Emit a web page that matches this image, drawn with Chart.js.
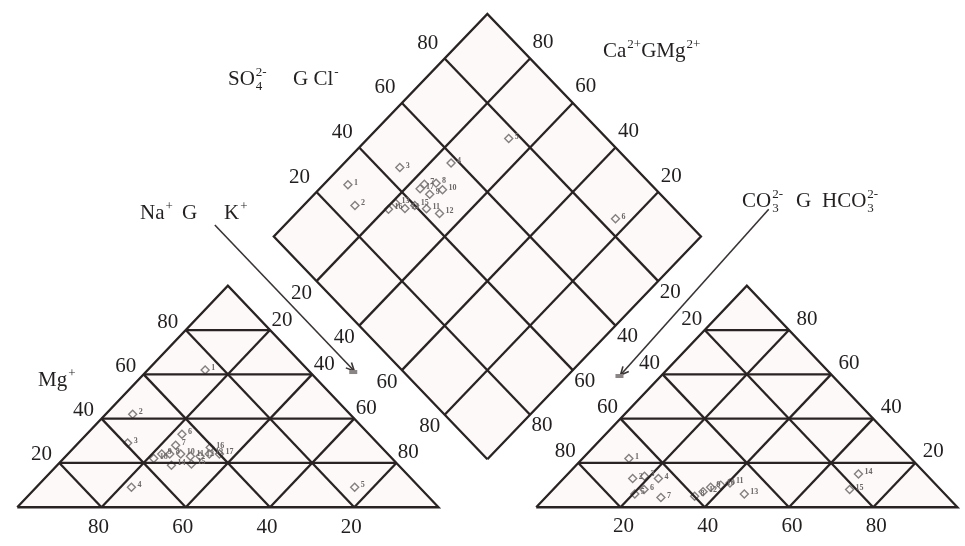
<!DOCTYPE html>
<html>
<head>
<meta charset="utf-8">
<script src="https://cdn.jsdelivr.net/npm/chart.js@4.4.1/dist/chart.umd.min.js"></script>
<style>
  html, body { margin: 0; padding: 0; background: #fff; overflow: hidden; }
  #wrap { width: 965px; height: 546px; position: relative; }
  canvas { filter: blur(0.35px); }
</style>
</head>
<body>
<div id="wrap"><canvas id="piper"></canvas></div>
<script>
// values on every axis of the three panels
const ticks = [20, 40, 60, 80];

// cation triangle: Mg % and Na+K % (Ca is the rest)
const catMg  = [62, 42, 29, 9, 9, 33, 28, 24, 24, 24, 23, 23, 24, 19, 19.5, 27, 24, 22];
const catNaK = [13.6, 6.4, 11.7, 22.6, 75.6, 22.6, 23.6, 24.2, 22.3, 26.8, 29.6, 31.9, 33.6, 27.1, 31.6, 32.3, 36, 21.4];

// anion triangle: SO4 % and Cl % (CO3+HCO3 is the rest)
const anSO4 = [22, 13, 14, 13, 6, 8, 4.4, 5, 9, 10, 11, 7, 6, 15, 8];
const anCl  = [11, 16.4, 18.7, 22.5, 20.4, 21.6, 27.4, 35.1, 36.9, 38.8, 40.5, 36.1, 46.4, 69, 70.4];

// diamond: Na+K % and SO4+Cl %
const diaNaK   = [5.7, 12, 14, 25, 33, 76, 23.5, 26, 27, 29, 29.5, 33.6, 21, 24.4, 26, 20.7, 23.5];
const diaSO4Cl = [29, 26, 45, 58, 77, 84, 47, 50, 46, 50, 42, 44, 36, 37, 40, 33, 45];

// layout of the plot in scale units (triangle base = 100, triangle height = 100)
const X0R = 123.2;               // left corner of the anion triangle
const B = { x: 111.6, y: 21.7 }; // bottom corner of the diamond
const DW = 50.7, DH = 100.5;

const catPos = (mg, nak) => ({ x: nak + mg / 2, y: mg });
const anPos = (so4, cl) => ({ x: X0R + cl + so4 / 2, y: so4 });
const diaPos = (nak, s) => ({
  x: B.x - (1 - nak / 100) * DW + (s / 100) * DW,
  y: B.y + (1 - nak / 100) * DH + (s / 100) * DH
});

const LINE = '#2a2323';
const outlines = [
  [catPos(0, 0), catPos(100, 0), catPos(0, 100)],
  [anPos(0, 0), anPos(100, 0), anPos(0, 100)],
  [diaPos(100, 0), diaPos(0, 0), diaPos(0, 100), diaPos(100, 100)]
];

const segments = [];
for (const t of ticks) {
  segments.push([catPos(t, 0), catPos(t, 100 - t)]);
  segments.push([catPos(0, t), catPos(100 - t, t)]);
  segments.push([catPos(0, 100 - t), catPos(100 - t, 0)]);
  segments.push([anPos(t, 0), anPos(t, 100 - t)]);
  segments.push([anPos(0, t), anPos(100 - t, t)]);
  segments.push([anPos(0, 100 - t), anPos(100 - t, 0)]);
  segments.push([diaPos(t, 0), diaPos(t, 100)]);
  segments.push([diaPos(0, t), diaPos(100, t)]);
}

const lineSet = pts => ({
  data: pts, showLine: true, borderColor: LINE, borderWidth: 2.3,
  pointRadius: 0, fill: false, clip: false, borderJoinStyle: 'miter'
});

const markerSet = pts => ({
  data: pts, pointStyle: 'rectRot', pointRadius: 4, borderWidth: 1.4,
  borderColor: '#858080', backgroundColor: 'rgba(0,0,0,0)', clip: false
});

const catPts = catMg.map((m, i) => catPos(m, catNaK[i]));
const anPts = anSO4.map((s, i) => anPos(s, anCl[i]));
const diaPts = diaNaK.map((n, i) => diaPos(n, diaSO4Cl[i]));

const datasets = [
  ...outlines.map(o => lineSet([...o, o[0]])),
  ...segments.map(lineSet),
  markerSet(catPts), markerSet(anPts), markerSet(diaPts)
];

// tick label groups: edge position of a tick value and label offset in px
const tickGroups = [
  { at: t => catPos(t, 0), dx: -18, dy: -8 },
  { at: t => catPos(100 - t, t), dx: 12, dy: -10 },
  { at: t => catPos(0, 100 - t), dx: -3, dy: 20 },
  { at: t => anPos(100 - t, 0), dx: -13, dy: -11 },
  { at: t => anPos(t, 100 - t), dx: 18, dy: -11 },
  { at: t => anPos(0, t), dx: 3, dy: 19 },
  { at: t => diaPos(0, t), dx: -17, dy: -15 },
  { at: t => diaPos(100 - t, 100), dx: 13, dy: -16 },
  { at: t => diaPos(t, 0), dx: -15, dy: 12 },
  { at: t => diaPos(100, 100 - t), dx: 12, dy: 11 }
];

const SERIF = '"Liberation Serif", "DejaVu Serif", serif';

function richText(ctx, x, y, parts, size) {
  let cx = x;
  for (const p of parts) {
    if (p.at !== undefined) cx = p.at;
    ctx.font = size + 'px ' + SERIF;
    if (p.t) { ctx.fillText(p.t, cx, y); cx += ctx.measureText(p.t).width; }
    ctx.font = Math.round(size * 0.6) + 'px ' + SERIF;
    let w = 0;
    if (p.sub) { ctx.fillText(p.sub, cx + 1, y + size * 0.22); w = Math.max(w, ctx.measureText(p.sub).width); }
    if (p.sup) { ctx.fillText(p.sup, cx + 1, y - size * 0.42); w = Math.max(w, ctx.measureText(p.sup).width); }
    cx += w + (w ? 1 : 0);
  }
}

const titles = [
  { x: 228, y: 85, parts: [{ t: 'SO', sub: '4', sup: '2-' }, { at: 293, t: 'G Cl', sup: '-' }] },
  { x: 603, y: 57, parts: [{ t: 'Ca', sup: '2+' }, { t: 'GMg', sup: '2+' }] },
  { x: 140, y: 219, parts: [{ t: 'Na', sup: '+' }, { at: 182, t: 'G' }, { at: 224, t: 'K', sup: '+' }] },
  { x: 742, y: 207, parts: [{ t: 'CO', sub: '3', sup: '2-' }, { at: 796, t: 'G' }, { at: 822, t: 'HCO', sub: '3', sup: '2-' }] },
  { x: 38, y: 386, parts: [{ t: 'Mg', sup: '+' }] }
];

const arrows = [
  { from: { x: 46.9, y: 127.4 }, to: { x: 80.0, y: 61.5 } },
  { from: { x: 178.4, y: 134.5 }, to: { x: 143.2, y: 59.7 } }
];

const piperDecor = {
  id: 'piperDecor',
  beforeDatasetsDraw(chart) {
    const { ctx, scales: { x, y } } = chart;
    ctx.save();
    ctx.fillStyle = '#fcf9f8';
    for (const poly of outlines) {
      ctx.beginPath();
      poly.forEach((p, i) => {
        const px = x.getPixelForValue(p.x), py = y.getPixelForValue(p.y);
        i ? ctx.lineTo(px, py) : ctx.moveTo(px, py);
      });
      ctx.closePath();
      ctx.fill();
    }
    ctx.restore();
  },
  afterDatasetsDraw(chart) {
    const { ctx, scales: { x, y } } = chart;
    ctx.save();
    ctx.fillStyle = '#231f1f';
    ctx.textAlign = 'center';
    ctx.textBaseline = 'middle';
    ctx.font = '21px ' + SERIF;
    for (const g of tickGroups) {
      for (const t of ticks) {
        const p = g.at(t);
        ctx.fillText(String(t), x.getPixelForValue(p.x) + g.dx, y.getPixelForValue(p.y) + g.dy);
      }
    }
    // sample numbers next to the markers
    ctx.font = 'bold 8px ' + SERIF;
    ctx.fillStyle = '#6c6666';
    ctx.textAlign = 'left';
    for (const set of [catPts, anPts, diaPts]) {
      set.forEach((p, i) => {
        ctx.fillText(String(i + 1), x.getPixelForValue(p.x) + 6, y.getPixelForValue(p.y) - 2);
      });
    }
    // titles
    ctx.fillStyle = '#231f1f';
    ctx.textBaseline = 'alphabetic';
    for (const tl of titles) richText(ctx, tl.x, tl.y, tl.parts, 21);
    // arrows
    ctx.strokeStyle = '#3a3434';
    ctx.lineWidth = 1.6;
    for (const a of arrows) {
      const x1 = x.getPixelForValue(a.from.x), y1 = y.getPixelForValue(a.from.y);
      const x2 = x.getPixelForValue(a.to.x), y2 = y.getPixelForValue(a.to.y);
      ctx.beginPath(); ctx.moveTo(x1, y1); ctx.lineTo(x2, y2); ctx.stroke();
      const ang = Math.atan2(y2 - y1, x2 - x1);
      ctx.beginPath();
      ctx.moveTo(x2 - 9 * Math.cos(ang - 0.45), y2 - 9 * Math.sin(ang - 0.45));
      ctx.lineTo(x2, y2);
      ctx.lineTo(x2 - 9 * Math.cos(ang + 0.45), y2 - 9 * Math.sin(ang + 0.45));
      ctx.stroke();
      ctx.fillStyle = '#8a8484';
      ctx.fillRect(x2 - 5, y2 - 1, 8, 4);
    }
    ctx.restore();
  }
};

new Chart(document.getElementById('piper'), {
  type: 'scatter',
  data: { datasets },
  options: {
    responsive: true,
    maintainAspectRatio: false,
    animation: false,
    layout: { padding: 0 },
    plugins: { legend: { display: false }, tooltip: { enabled: false } },
    scales: {
      x: { type: 'linear', display: false, min: -2.817, max: 223.709 },
      y: { type: 'linear', display: false, min: -15.044, max: 226.549 }
    }
  },
  plugins: [piperDecor]
});
</script>
</body>
</html>
